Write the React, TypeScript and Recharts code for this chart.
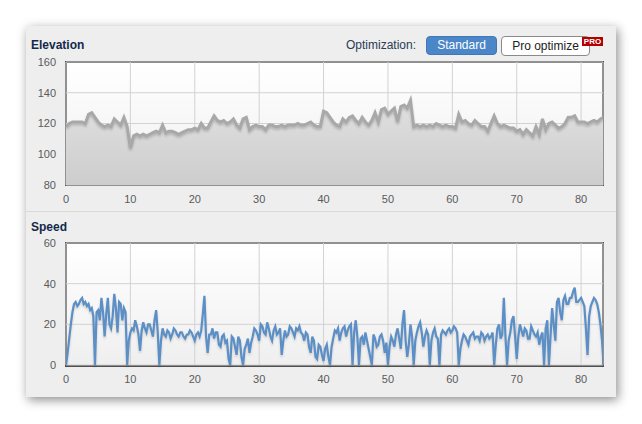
import { AreaChart, Area, LineChart, Line, XAxis, YAxis, CartesianGrid } from "recharts"

// elevation (m), sampled every 0.5 km from 0 to 83.5
const elevation = [
  118, 120, 121, 121, 121, 121, 120, 126, 127, 124, 121, 119, 118, 119, 118, 123, 121, 119, 124, 118,
  104, 112, 113, 112, 113, 112, 113, 114, 115, 114, 119, 114, 115, 115, 114, 113, 114, 115, 116, 116,
  117, 116, 120, 117, 117, 121, 125, 122, 121, 122, 120, 121, 123, 119, 117, 123, 124, 116, 118, 119,
  118, 118, 116, 119, 119, 118, 118, 119, 118, 119, 119, 119, 120, 119, 119, 120, 121, 119, 118, 118,
  128, 127, 124, 121, 119, 118, 123, 121, 124, 125, 122, 120, 124, 121, 119, 122, 127, 121, 129, 130,
  126, 128, 130, 121, 131, 132, 130, 135, 118, 119, 118, 119, 118, 119, 118, 120, 119, 118, 119, 118,
  118, 117, 126, 121, 122, 120, 119, 122, 120, 118, 118, 115, 120, 125, 120, 118, 119, 118, 117, 117,
  115, 116, 113, 116, 114, 112, 118, 113, 123, 116, 120, 121, 119, 117, 118, 120, 124, 124, 125, 121,
  121, 121, 120, 121, 122, 121, 123, 124,
]

// speed (km/h), sampled every 0.25 km from 0 to 83.5
const speed = [
  0, 6, 13, 20, 26, 30, 31, 29, 30, 32, 33, 30, 31, 29, 30, 27, 28, 24, 0, 26,
  27, 22, 33, 26, 14, 25, 33, 20, 18, 24, 35, 28, 16, 31, 30, 22, 28, 26, 0, 12,
  16, 18, 17, 22, 19, 15, 7, 17, 21, 18, 16, 20, 20, 17, 14, 22, 27, 16, 0, 12,
  18, 15, 14, 17, 16, 13, 15, 18, 17, 15, 14, 16, 16, 14, 13, 15, 15, 17, 16, 14,
  12, 15, 16, 14, 17, 25, 34, 14, 6, 15, 15, 18, 13, 16, 16, 10, 9, 14, 15, 11,
  12, 3, 0, 14, 13, 9, 5, 14, 12, 4, 0, 8, 10, 13, 6, 11, 14, 18, 17, 15,
  12, 20, 19, 16, 15, 21, 18, 14, 12, 17, 19, 15, 16, 18, 5, 12, 17, 14, 15, 19,
  18, 16, 14, 18, 17, 19, 16, 15, 12, 16, 15, 9, 6, 14, 12, 4, 3, 10, 9, 5,
  2, 8, 10, 4, 0, 9, 13, 17, 16, 18, 12, 16, 18, 19, 14, 17, 19, 20, 0, 16,
  22, 14, 0, 13, 14, 10, 16, 12, 8, 4, 0, 15, 13, 9, 10, 14, 15, 12, 6, 11,
  0, 9, 14, 12, 9, 15, 18, 13, 8, 20, 27, 12, 4, 10, 20, 14, 0, 12, 16, 19,
  21, 16, 9, 14, 17, 15, 0, 12, 16, 18, 14, 13, 0, 15, 17, 16, 15, 17, 18, 16,
  17, 19, 18, 16, 0, 8, 12, 15, 14, 12, 10, 14, 15, 16, 13, 14, 14, 12, 16, 15,
  12, 14, 15, 13, 14, 16, 0, 10, 18, 20, 13, 15, 33, 14, 0, 12, 16, 22, 24, 14,
  3, 14, 20, 17, 14, 18, 17, 13, 13, 19, 17, 15, 14, 16, 10, 14, 16, 0, 18, 22,
  0, 14, 28, 20, 12, 31, 33, 26, 22, 32, 34, 30, 30, 33, 33, 36, 38, 31, 31, 32,
  33, 31, 29, 18, 5, 24, 29, 31, 33, 32, 30, 26, 20, 12, 0,
]

const xTicks = [0, 10, 20, 30, 40, 50, 60, 70, 80]
const elevTicks = [80, 100, 120, 140, 160]
const speedTicks = [0, 20, 40, 60]

const elevData = elevation.map((v, i) => ({ km: i * 0.5, elev: v }))
const speedData = speed.map((v, i) => ({ km: i * 0.25, speed: v }))

const font = "'Liberation Sans', Arial, sans-serif"
const tick = { fontSize: 11, fontFamily: font, fill: "#5a5a5a" }

function PlotFrame({ top }: { top: number }) {
  return (
    <div
      style={{
        position: "absolute",
        left: 65,
        top: top - 1,
        width: 539,
        height: 125,
        boxSizing: "border-box",
        border: "2px solid #505050",
        background: "linear-gradient(#ffffff, #efefef)",
      }}
    />
  )
}

export default function App() {
  return (
    <div
      style={{
        position: "absolute",
        left: 0,
        top: 0,
        width: 642,
        height: 424,
        background: "#fff",
        fontFamily: font,
        overflow: "hidden",
      }}
    >
      <style>{`
        .recharts-area-curve { filter: drop-shadow(0px 2px 1px rgba(0,0,0,0.18)); }
        .recharts-line-curve { filter: drop-shadow(0px 2px 1px rgba(0,0,0,0.15)); }
      `}</style>
      <div
        style={{
          position: "absolute",
          left: 26,
          top: 26,
          width: 590,
          height: 371,
          background: "#eeeeee",
          boxShadow: "2px 3px 10px rgba(0,0,0,0.45)",
        }}
      />
      <div style={{ position: "absolute", left: 26, top: 211, width: 590, height: 1, background: "#d9d9d9" }} />

      <div style={{ position: "absolute", left: 31, top: 38, fontSize: 12, fontWeight: "bold", color: "#13294b" }}>
        Elevation
      </div>
      <div style={{ position: "absolute", left: 31, top: 220, fontSize: 12, fontWeight: "bold", color: "#13294b" }}>
        Speed
      </div>

      <div style={{ position: "absolute", left: 346, top: 38, fontSize: 12, color: "#2b3a55" }}>Optimization:</div>
      <div
        style={{
          position: "absolute",
          left: 426,
          top: 36,
          width: 71,
          height: 19,
          borderRadius: 4,
          background: "#4a86c8",
          border: "1px solid #3f78b8",
          boxSizing: "border-box",
          color: "#fff",
          fontSize: 12,
          lineHeight: "17px",
          textAlign: "center",
        }}
      >
        Standard
      </div>
      <div
        style={{
          position: "absolute",
          left: 501,
          top: 36,
          width: 89,
          height: 20,
          borderRadius: 4,
          background: "#fff",
          border: "1px solid #8a8a8a",
          boxSizing: "border-box",
          color: "#222",
          fontSize: 12,
          lineHeight: "18px",
          textAlign: "center",
        }}
      >
        Pro optimize
      </div>
      <div
        style={{
          position: "absolute",
          left: 582,
          top: 37,
          width: 21,
          height: 9,
          background: "#b30000",
          color: "#fff",
          fontSize: 8,
          fontWeight: "bold",
          lineHeight: "9px",
          textAlign: "center",
        }}
      >
        PRO
      </div>

      <PlotFrame top={62} />
      <div style={{ position: "absolute", left: 20, top: 55 }}>
        <AreaChart width={600} height={155} data={elevData} margin={{ top: 7, right: 17, left: 6, bottom: 5 }}>
          <defs>
            <linearGradient id="elevFill" x1="0" y1="0" x2="0" y2="1">
              <stop offset="0%" stopColor="#e0e0e0" />
              <stop offset="100%" stopColor="#cdcdcd" />
            </linearGradient>
          </defs>
          <CartesianGrid stroke="#d2d2d2" />
          <XAxis
            dataKey="km"
            type="number"
            domain={[0, 83.4]}
            ticks={xTicks}
            allowDataOverflow
            tick={tick}
            axisLine={false}
            tickLine={false}
            height={20}
            tickMargin={4}
          />
          <YAxis
            domain={[80, 160]}
            ticks={elevTicks}
            tick={tick}
            axisLine={false}
            tickLine={false}
            width={40}
            tickMargin={4}
          />
          <Area
            type="linear"
            dataKey="elev"
            stroke="#a8a8a8"
            strokeWidth={3}
            fill="url(#elevFill)"
            fillOpacity={1}
            dot={false}
            isAnimationActive={false}
          />
        </AreaChart>
      </div>

      <PlotFrame top={243} />
      <div style={{ position: "absolute", left: 20, top: 235 }}>
        <LineChart width={600} height={155} data={speedData} margin={{ top: 8, right: 17, left: 6, bottom: 5 }}>
          <CartesianGrid stroke="#d2d2d2" />
          <XAxis
            dataKey="km"
            type="number"
            domain={[0, 83.4]}
            ticks={xTicks}
            allowDataOverflow
            tick={tick}
            axisLine={false}
            tickLine={false}
            height={20}
            tickMargin={4}
          />
          <YAxis
            domain={[0, 60]}
            ticks={speedTicks}
            tick={tick}
            axisLine={false}
            tickLine={false}
            width={40}
            tickMargin={4}
          />
          <Line
            type="linear"
            dataKey="speed"
            stroke="#5b8fc6"
            strokeWidth={2.2}
            dot={false}
            isAnimationActive={false}
          />
        </LineChart>
      </div>
    </div>
  )
}
